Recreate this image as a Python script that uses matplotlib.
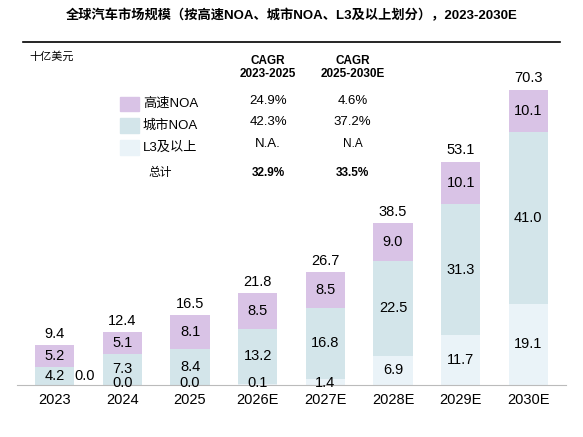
import matplotlib
matplotlib.use("Agg")
import matplotlib.pyplot as plt
import numpy as np

plt.rcParams['font.family'] = ['Liberation Sans', 'Noto Sans CJK SC', 'DejaVu Sans']

years = ["2023", "2024", "2025", "2026E", "2027E", "2028E", "2029E", "2030E"]
l3 = [0.0, 0.0, 0.0, 0.1, 1.4, 6.9, 11.7, 19.1]
city = [4.2, 7.3, 8.4, 13.2, 16.8, 22.5, 31.3, 41.0]
highway = [5.2, 5.1, 8.1, 8.5, 8.5, 9.0, 10.1, 10.1]
totals = [9.4, 12.4, 16.5, 21.8, 26.7, 38.5, 53.1, 70.3]
legend_names = ["高速NOA", "城市NOA", "L3及以上"]
cagr1 = ["24.9%", "42.3%", "N.A."]
cagr2 = ["4.6%", "37.2%", "N.A"]
total_cagr = ["32.9%", "33.5%"]

c_hw, c_city, c_l3 = "#D9C3E6", "#D3E5EA", "#EAF3F8"

fig = plt.figure(figsize=(5.83, 4.37), dpi=100)
ax = fig.add_axes([0.03, 0.12, 0.94, 0.74])
x = np.arange(len(years))
w = 0.58
ax.bar(x, l3, w, color=c_l3)
ax.bar(x, city, w, bottom=l3, color=c_city)
b2 = np.array(l3) + np.array(city)
ax.bar(x, highway, w, bottom=b2, color=c_hw)
fs = 10.5
for i in range(len(years)):
    if i == 0:
        ax.text(x[i], l3[i] + city[i] / 2, f"{city[i]:.1f}", ha='center', va='center', fontsize=fs)
        ax.text(x[i] + 0.44, 2.1, f"{l3[i]:.1f}", ha='center', va='center', fontsize=fs)
    else:
        yl = l3[i] / 2 if l3[i] > 3 else 0.4
        ax.text(x[i], yl, f"{l3[i]:.1f}", ha='center', va='center', fontsize=fs)
        ax.text(x[i], l3[i] + city[i] / 2, f"{city[i]:.1f}", ha='center', va='center', fontsize=fs)
    ax.text(x[i], b2[i] + highway[i] / 2, f"{highway[i]:.1f}", ha='center', va='center', fontsize=fs)
    ax.text(x[i], totals[i] + 1.0, f"{totals[i]:.1f}", ha='center', va='bottom', fontsize=fs)

ax.set_xlim(-0.55, 7.55)
ax.set_ylim(0, 77)
ax.set_xticks(x)
ax.set_xticklabels(years, fontsize=10.5)
ax.tick_params(length=0, pad=6)
ax.set_yticks([])
for s in ax.spines.values():
    s.set_visible(False)
ax.spines['bottom'].set_visible(True)
ax.spines['bottom'].set_color('#bbbbbb')

fig.text(0.5, 0.965, "全球汽车市场规模（按高速NOA、城市NOA、L3及以上划分），2023-2030E",
         ha='center', va='center', fontsize=9.5, fontweight='bold')
fig.add_artist(plt.Line2D([0.04, 0.96], [0.905, 0.905], color='black', lw=1.2))
fig.text(0.05, 0.87, "十亿美元", fontsize=8, style='italic', va='center')

fig.text(0.46, 0.845, "CAGR\n2023-2025", ha='center', va='center', fontsize=8.5, fontweight='bold', linespacing=1.1)
fig.text(0.605, 0.845, "CAGR\n2025-2030E", ha='center', va='center', fontsize=8.5, fontweight='bold', linespacing=1.1)
rows_y = [0.762, 0.712, 0.662]
for yy, nm, c, a, b in zip(rows_y, legend_names, [c_hw, c_city, c_l3], cagr1, cagr2):
    fig.add_artist(plt.Rectangle((0.205, yy - 0.017), 0.034, 0.034, color=c, transform=fig.transFigure))
    fig.text(0.245, yy, nm, fontsize=9.5, va='center')
    fig.text(0.46, yy + 0.008, a, fontsize=9.5, ha='center', va='center')
    fig.text(0.605, yy + 0.008, b, fontsize=9.5 if b[0] != 'N' else 8.5, ha='center', va='center')
fig.text(0.275, 0.605, "总计", fontsize=8.5, ha='center', va='center', style='italic')
fig.text(0.46, 0.605, total_cagr[0], fontsize=8.5, ha='center', va='center', fontweight='bold')
fig.text(0.605, 0.605, total_cagr[1], fontsize=8.5, ha='center', va='center', fontweight='bold')

fig.savefig("out.png", dpi=100)
